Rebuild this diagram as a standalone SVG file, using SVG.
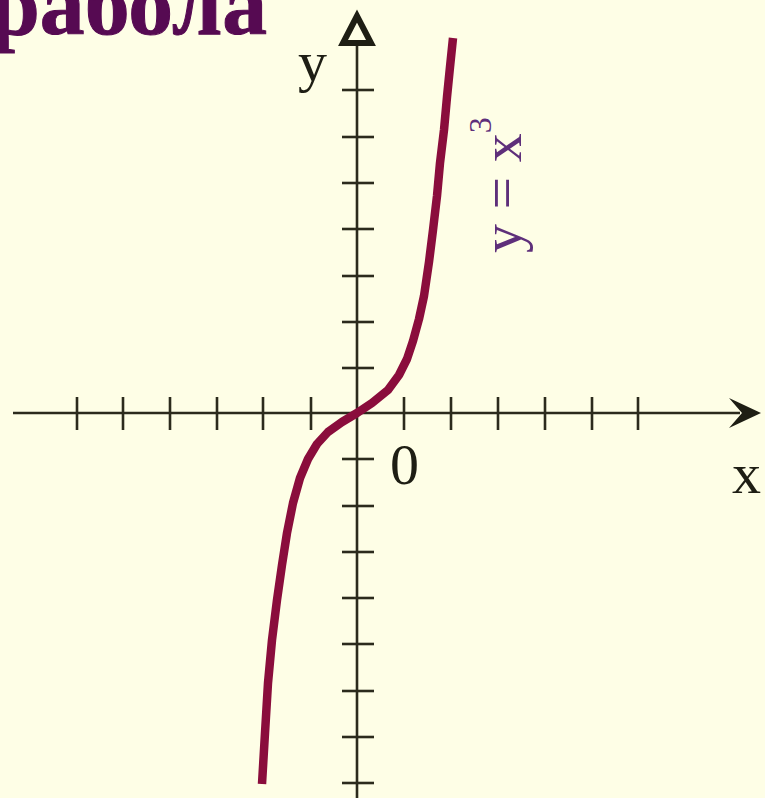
<svg xmlns="http://www.w3.org/2000/svg" width="765" height="798" viewBox="0 0 765 798">
  <style>
    .axis { stroke: #2b2a1c; stroke-width: 2.6; fill: none; }
    .tick { stroke: #2b2a1c; stroke-width: 2.6; }
    .lbl { font-family: "Liberation Serif", "Times New Roman", serif; font-size: 58px; fill: #1e1e14; }
    .curve { stroke: #8a0d3c; stroke-width: 8.5; fill: none; stroke-linejoin: round; stroke-linecap: butt; }
  </style>
  <rect width="765" height="798" fill="#fefee6"/>
  <g id="title">
    <text x="-10" y="34" font-family="Liberation Serif, Times New Roman, serif" font-weight="bold" font-size="86" fill="#560a52" stroke="#560a52" stroke-width="1" textLength="277" lengthAdjust="spacingAndGlyphs">рабола</text>
  </g>
  <g id="axes">
    <line class="axis" x1="13" y1="413" x2="740" y2="413"/>
    <polygon points="729,398 761,413 729,428 742,413" fill="#1e1e14"/>
    <line class="axis" x1="357" y1="42" x2="357" y2="798"/>
    <polygon points="357,16 343,43 371,43" fill="#fefee6" stroke="#1e1e14" stroke-width="6" stroke-linejoin="miter"/>
    <g id="x-ticks" class="tick">
      <line x1="77" y1="397" x2="77" y2="430"/>
      <line x1="123" y1="397" x2="123" y2="430"/>
      <line x1="170" y1="397" x2="170" y2="430"/>
      <line x1="217" y1="397" x2="217" y2="430"/>
      <line x1="263" y1="397" x2="263" y2="430"/>
      <line x1="311" y1="397" x2="311" y2="430"/>
      <line x1="404" y1="397" x2="404" y2="430"/>
      <line x1="451" y1="397" x2="451" y2="430"/>
      <line x1="498" y1="397" x2="498" y2="430"/>
      <line x1="545" y1="397" x2="545" y2="430"/>
      <line x1="592" y1="397" x2="592" y2="430"/>
      <line x1="638" y1="397" x2="638" y2="430"/>
    </g>
    <g id="y-ticks" class="tick">
      <line x1="342" y1="90" x2="374" y2="90"/>
      <line x1="342" y1="137" x2="374" y2="137"/>
      <line x1="342" y1="183" x2="374" y2="183"/>
      <line x1="342" y1="229" x2="374" y2="229"/>
      <line x1="342" y1="276" x2="374" y2="276"/>
      <line x1="342" y1="322" x2="374" y2="322"/>
      <line x1="342" y1="368" x2="374" y2="368"/>
      <line x1="342" y1="459" x2="374" y2="459"/>
      <line x1="342" y1="506" x2="374" y2="506"/>
      <line x1="342" y1="552" x2="374" y2="552"/>
      <line x1="342" y1="598" x2="374" y2="598"/>
      <line x1="342" y1="644" x2="374" y2="644"/>
      <line x1="342" y1="691" x2="374" y2="691"/>
      <line x1="342" y1="737" x2="374" y2="737"/>
      <line x1="342" y1="783" x2="374" y2="783"/>
    </g>
  </g>
  <g id="curve">
    <polyline class="curve" points="262,784 265,733 268,683 272,640 277,600 282,565 287,533 293,503 300,478 308,459 317,444 328,432 342,422 357,413 372,403 388,390 399,375 407,359 413,341 419,319 424,296 429,262 433,230 437,196 440,163 444,130 447,97 450,67 453,38"/>
  </g>
  <g id="labels">
    <text class="lbl" x="298" y="81">y</text>
    <text class="lbl" x="732" y="493">x</text>
    <text class="lbl" x="390" y="484">0</text>
    <text transform="translate(521,253) rotate(-90)" font-family="Liberation Serif, Times New Roman, serif" font-size="58" fill="#5e2f7a">y = x<tspan font-size="32" dy="-30">3</tspan></text>
  </g>
</svg>
